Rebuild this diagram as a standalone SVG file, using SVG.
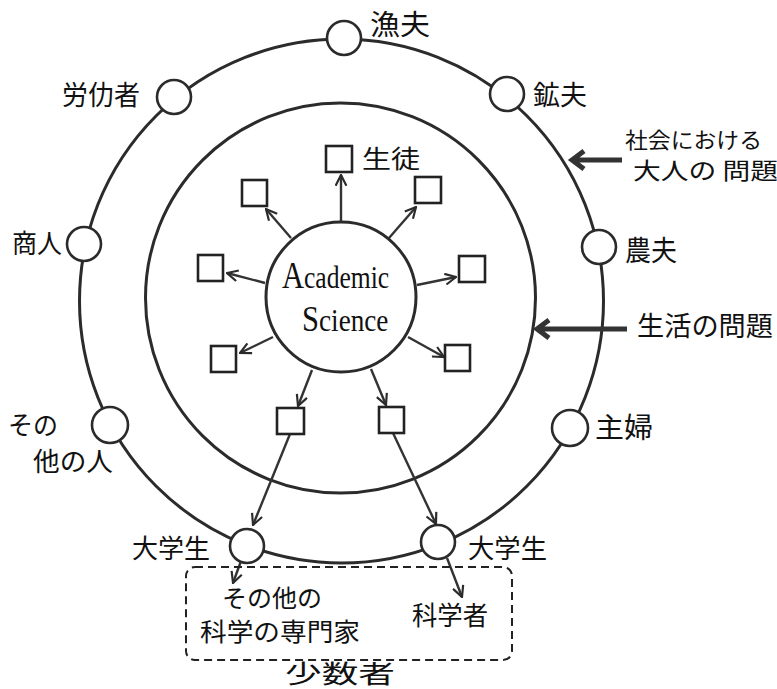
<svg xmlns="http://www.w3.org/2000/svg" width="777" height="689" viewBox="0 0 777 689">
<defs>
<marker id="ah" viewBox="0 0 12 12" refX="11" refY="6" markerWidth="13" markerHeight="13" markerUnits="userSpaceOnUse" orient="auto">
<path d="M1,1 L11,6 L1,11" fill="none" stroke="#2b2b2b" stroke-width="2"/>
</marker>
</defs>
<style>
.ring{fill:none;stroke:#2b2b2b;stroke-width:3}
.node{fill:#fff;stroke:#2b2b2b;stroke-width:2.6}
.sq{fill:#fff;stroke:#222;stroke-width:2.6}
.arr{fill:none;stroke:#333;stroke-width:2.4;marker-end:url(#ah)}
.big{fill:none;stroke:#333;stroke-width:5}
.t{font-family:"Noto Sans CJK JP","Noto Sans CJK SC",sans-serif;fill:#111}
.s{font-family:"Liberation Serif",serif;fill:#111}
</style>
<rect width="777" height="689" fill="#fff"/>
<g id="rings">
<circle class="ring" cx="341.5" cy="301" r="262"/>
<circle class="ring" cx="340.5" cy="298" r="195"/>
</g>
<g id="connectors">
<line class="arr" x1="341" y1="222" x2="341" y2="175"/>
<line class="arr" x1="291" y1="238" x2="266" y2="209"/>
<line class="arr" x1="389" y1="238" x2="416" y2="207"/>
<line class="arr" x1="265" y1="283" x2="227" y2="273"/>
<line class="arr" x1="417" y1="285" x2="456" y2="277"/>
<line class="arr" x1="273" y1="337" x2="240" y2="353"/>
<line class="arr" x1="408" y1="337" x2="444" y2="357"/>
<line class="arr" x1="312" y1="370" x2="298" y2="406"/>
<line class="arr" x1="371" y1="369" x2="386" y2="405"/>
<line class="arr" x1="290" y1="434" x2="253" y2="525"/>
<line class="arr" x1="393" y1="433" x2="436" y2="524"/>
<line class="arr" x1="241" y1="561" x2="233" y2="583"/>
<line class="arr" x1="447" y1="558" x2="462" y2="597"/>
<path class="big" d="M622,160 L573,160 M584,151 L572,160 L584,169"/>
<path class="big" d="M627,329 L538,329 M549,320 L537,329 L549,338"/>
</g>
<g id="center">
<circle cx="341" cy="297" r="75" fill="#fff" stroke="#2b2b2b" stroke-width="3"/>
<text class="s" transform="translate(282,288) scale(0.8,1)" x="0" y="0" font-size="32"><tspan font-size="38">A</tspan>cademic</text>
<text class="s" transform="translate(302,331) scale(0.85,1)" x="0" y="0" font-size="32"><tspan font-size="36">S</tspan>cience</text>
</g>
<g id="squares">
<rect id="s1" class="sq" x="326" y="146" width="26" height="26"/>
<rect id="s2" class="sq" x="242" y="180" width="25" height="26"/>
<rect id="s3" class="sq" x="415" y="177" width="26" height="26"/>
<rect id="s4" class="sq" x="198" y="255" width="25" height="26"/>
<rect id="s5" class="sq" x="459" y="256" width="26" height="26"/>
<rect id="s6" class="sq" x="211" y="346" width="25" height="26"/>
<rect id="s7" class="sq" x="445" y="345" width="25" height="26"/>
<rect id="s8" class="sq" x="277" y="408" width="27" height="26"/>
<rect id="s9" class="sq" x="379" y="407" width="25" height="26"/>
<text class="t" x="362" y="168" font-size="25" textLength="58" lengthAdjust="spacingAndGlyphs">生徒</text>
</g>
<g id="n-gyofu"><circle class="node" cx="344" cy="38" r="17"/><text class="t" x="370" y="35" font-size="28" textLength="60" lengthAdjust="spacingAndGlyphs">漁夫</text></g>
<g id="n-roudou"><circle class="node" cx="174" cy="97" r="17"/><text class="t" x="62" y="105" font-size="27" textLength="78" lengthAdjust="spacingAndGlyphs">労仂者</text></g>
<g id="n-koufu"><circle class="node" cx="507" cy="94" r="17"/><text class="t" x="533" y="105" font-size="27" textLength="54" lengthAdjust="spacingAndGlyphs">鉱夫</text></g>
<g id="n-shonin"><circle class="node" cx="84" cy="244" r="17"/><text class="t" x="12" y="253" font-size="26" textLength="50" lengthAdjust="spacingAndGlyphs">商人</text></g>
<g id="n-noufu"><circle class="node" cx="599" cy="247" r="17"/><text class="t" x="625" y="261" font-size="28" textLength="52" lengthAdjust="spacingAndGlyphs">農夫</text></g>
<g id="n-sonota"><circle class="node" cx="110" cy="425" r="18"/><text class="t" x="8" y="435" font-size="26" textLength="50" lengthAdjust="spacingAndGlyphs">その</text><text class="t" x="33" y="471" font-size="26" textLength="80" lengthAdjust="spacingAndGlyphs">他の人</text></g>
<g id="n-shufu"><circle class="node" cx="570" cy="428" r="18"/><text class="t" x="595" y="438" font-size="28" textLength="58" lengthAdjust="spacingAndGlyphs">主婦</text></g>
<g id="n-daigaku1"><circle class="node" cx="247" cy="546" r="17"/><text class="t" x="132" y="558" font-size="26" textLength="78" lengthAdjust="spacingAndGlyphs">大学生</text></g>
<g id="n-daigaku2"><circle class="node" cx="438" cy="542" r="17"/><text class="t" x="468" y="558" font-size="26" textLength="79" lengthAdjust="spacingAndGlyphs">大学生</text></g>
<g id="labels">
<text class="t" x="625" y="148" font-size="22" textLength="137" lengthAdjust="spacingAndGlyphs">社会における</text>
<text class="t" x="633" y="179" font-size="23" textLength="145" lengthAdjust="spacingAndGlyphs">大人の 問題</text>
<text class="t" x="637" y="336" font-size="27" textLength="136" lengthAdjust="spacingAndGlyphs">生活の問題</text>
</g>
<g id="minority">
<rect x="186" y="567" width="326" height="93" rx="9" fill="none" stroke="#222" stroke-width="2" stroke-dasharray="8,5"/>
<text class="t" x="222" y="607" font-size="24" textLength="100" lengthAdjust="spacingAndGlyphs">その他の</text>
<text class="t" x="200" y="641" font-size="25" textLength="160" lengthAdjust="spacingAndGlyphs">科学の専門家</text>
<text class="t" x="412" y="625" font-size="26" textLength="76" lengthAdjust="spacingAndGlyphs">科学者</text>
<text class="t" x="285" y="683" font-size="25" textLength="110" lengthAdjust="spacingAndGlyphs">少数者</text>
</g>
</svg>
